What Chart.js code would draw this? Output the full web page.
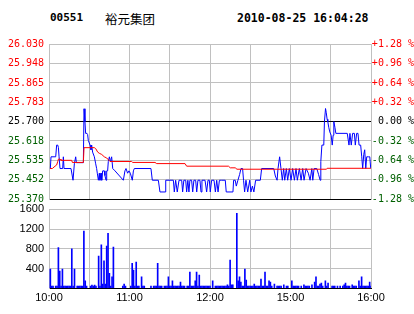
<!DOCTYPE html>
<html><head><meta charset="utf-8">
<script src="https://cdn.jsdelivr.net/npm/chart.js@4/dist/chart.umd.min.js"></script>
<style>
html,body{margin:0;padding:0;background:#fff;width:414px;height:314px;overflow:hidden;}
.t{position:absolute;white-space:nowrap;color:#000;line-height:1;}
canvas{position:absolute;left:0;}
</style></head><body>
<div class="t" style="left:50px;top:11px;font:bold 11px 'DejaVu Sans Mono',monospace;">00551</div>
<div class="t" style="left:105px;top:9px;font:12.5px 'Noto Sans CJK SC',sans-serif;">裕元集团</div>
<div class="t" style="left:237px;top:11px;font:bold 11.5px 'DejaVu Sans Mono',monospace;">2010-08-25 16:04:28</div>
<canvas id="c1" width="414" height="180" style="top:30px"></canvas>
<canvas id="c2" width="414" height="119" style="top:195px"></canvas>
<script>
// ---- data ----
const prevClose = 25.70;
const priceTicks = [25.370, 25.4525, 25.535, 25.6175, 25.700, 25.7825, 25.865, 25.9475, 26.030];
const priceTickLabels = ['25.370','25.452','25.535','25.618','25.700','25.783','25.865','25.948','26.030'];
const pctTickLabels = ['-1.28 %','-0.96 %','-0.64 %','-0.32 %','0.00 %','+0.32 %','+0.64 %','+0.96 %','+1.28 %'];
const gridMinutes = [0,30,60,90,120,150,180,210,240];
const timeLabelMinutes = [0,60,120,180,240];
const timeLabels = ['10:00','11:00','12:00','15:00','16:00'];
const volTicks = [0,400,800,1200,1600];
const volTickLabels = ['','400','800','1200','1600'];

const blueMin = [1,1.5,5,5.7,6.5,7,7.5,8.2,10.2,10.7,11.2,16.4,17.9,18.9,19.9,20.4,25.6,26.1,26.8,27.3,28.3,28.8,29.3,30.6,31.3,31.8,32.5,33.8,34.8,35.5,36,36.8,37.5,38,38.8,39.3,40,41.2,41.7,42.5,43,43.7,44.2,45,45.7,46.2,46.7,47.5,49.2,55.4,56.6,57.4,58.6,59.6,60.6,62.1,62.9,63.6,76,77,81.5,82.7,86.5,87,92.7,93.4,94.4,95.6,96.9,98.9,99.6,100.5,101.9,102.6,103.5,104.3,105,106.3,107.1,108,109.3,110.1,111,112.5,113.3,114,116.3,117.5,118.5,119.5,120.2,121.2,123,124,125,126,127,128.4,131.4,132.1,137.1,137.6,138.8,139.6,140.8,142.1,143.1,144.3,145,145.8,146.8,148.1,149.6,150.5,151.6,152.7,154,157.5,158.5,167.5,168.7,170,170.7,171.9,172.9,173.9,174.9,175.7,176.9,177.9,179.1,180.4,181.6,182.9,184.1,185.1,186.6,187.9,189.1,190.1,191.6,193.3,194.6,195.9,196.6,197.6,199.6,200.9,202.1,202.6,203.4,204.8,205.3,206.1,206.6,207.3,207.8,208.5,209.3,210.3,211.1,211.8,212.3,213.1,213.8,222.3,223.6,224.3,225.3,226.3,227.6,228.3,229.3,230.3,231.1,232.3,233.1,233.8,234.6,235.3,236.1,236.8,238.1,239.1,239.8];
const bluePrice = [25.50,25.55,25.55,25.60,25.60,25.59,25.55,25.50,25.50,25.55,25.50,25.50,25.45,25.52,25.55,25.525,25.525,25.755,25.70,25.65,25.65,25.645,25.62,25.60,25.58,25.60,25.57,25.55,25.52,25.50,25.48,25.45,25.48,25.45,25.48,25.45,25.49,25.49,25.47,25.45,25.49,25.49,25.53,25.55,25.53,25.54,25.55,25.50,25.49,25.45,25.49,25.50,25.48,25.49,25.48,25.45,25.49,25.50,25.50,25.45,25.45,25.40,25.40,25.45,25.45,25.40,25.45,25.40,25.45,25.45,25.40,25.45,25.45,25.40,25.45,25.40,25.45,25.45,25.40,25.45,25.45,25.40,25.45,25.45,25.40,25.45,25.45,25.40,25.45,25.45,25.40,25.45,25.45,25.40,25.45,25.40,25.45,25.45,25.45,25.40,25.40,25.45,25.45,25.425,25.45,25.475,25.50,25.50,25.45,25.40,25.45,25.40,25.45,25.40,25.425,25.40,25.45,25.45,25.50,25.50,25.468,25.45,25.50,25.55,25.50,25.45,25.50,25.45,25.50,25.45,25.50,25.45,25.50,25.45,25.50,25.45,25.50,25.45,25.50,25.45,25.50,25.48,25.45,25.50,25.45,25.50,25.50,25.475,25.45,25.53,25.60,25.60,25.70,25.756,25.74,25.71,25.70,25.676,25.656,25.642,25.60,25.642,25.70,25.676,25.65,25.65,25.60,25.65,25.60,25.65,25.65,25.60,25.65,25.65,25.60,25.60,25.55,25.50,25.56,25.58,25.50,25.55,25.55,25.55,25.50];

const avgMin = [0.75,2.5,4.5,5.7,6.5,7,8.2,8.9,16.9,17.4,25.6,26.1,33.8,34.8,36.3,37.5,39.3,41.2,43,45.5,61.6,62.4,79,80.3,101.4,102.6,133.8,135.1,138.8,140.1,206.8,207.3,239.8];
const avgPrice = [25.50,25.50,25.51,25.515,25.53,25.54,25.54,25.535,25.535,25.526,25.526,25.589,25.589,25.585,25.57,25.565,25.56,25.55,25.545,25.53,25.53,25.526,25.526,25.521,25.521,25.51,25.51,25.503,25.503,25.497,25.497,25.501,25.501];

const volMin = [1,2,3,5,6,7,8,9,10,11,12,13,14,15,16,17,18,19,21,22,23,24,25,26,27,28,31,32,33,34,35,37,38,39,40,41,42,43,44,45,46,47,48,55,56,57,61,62,63,64,65,66,67,69,70,71,76,78,79,80,81,82,83,84,86,87,88,89,90,91,92,93,94,95,96,97,98,99,100,101,103,104,105,106,107,108,109,110,111,112,113,114,115,116,117,118,119,120,122,124,125,126,127,128,129,130,131,132,133,134,135,136,137,140,141,142,143,144,145,146,147,148,149,150,151,152,153,154,155,156,157,158,159,160,161,162,163,164,165,166,168,170,171,172,173,175,177,178,181,182,183,184,185,186,188,190,191,192,193,194,196,198,199,200,201,202,203,204,206,207,208,211,212,213,215,217,219,220,221,222,223,224,226,227,228,229,231,232,233,234,235,236,237,238,239,240];
const volVal = [391,45,45,45,45,823,351,45,391,45,45,45,45,45,45,797,45,391,45,45,45,45,45,1161,149,45,45,65,45,65,45,655,45,878,88,554,88,857,1114,304,45,230,837,45,88,45,45,506,371,45,533,45,45,230,45,45,45,45,45,45,506,45,45,45,45,45,45,230,45,45,149,45,45,45,45,45,128,45,45,45,45,45,331,45,45,45,149,331,45,270,45,45,45,45,45,45,45,45,149,45,45,45,45,45,45,45,45,45,68,45,574,68,68,1519,149,230,128,45,45,391,169,45,45,45,45,45,88,45,45,45,45,189,45,45,331,45,45,149,128,45,88,45,45,45,45,68,45,45,149,45,45,45,45,45,45,68,45,45,45,45,68,128,230,45,45,88,108,45,149,45,108,45,45,45,45,45,45,68,108,45,45,45,68,45,45,45,149,45,230,45,45,45,45,45,128,45];

// ---- helpers ----
const GRAY = '#C0C0C0', RED = '#FF0000', GREEN = '#006000';
function near(a,b){return Math.abs(a-b)<1e-6;}
function levelColor(v){ if (near(v,prevClose)) return '#000000'; return v>prevClose ? RED : GREEN; }
const monoFont = {family:"'DejaVu Sans Mono', monospace", size:10};
const sansFont = {family:"'Liberation Sans', Arial, sans-serif", size:11};

new Chart(document.getElementById('c1'), {
  type:'line',
  data:{datasets:[
    {data: blueMin.map((m,i)=>({x:m,y:bluePrice[i]})), borderColor:'#0000FF', borderWidth:1, pointRadius:0, tension:0, order:1},
    {data: avgMin.map((m,i)=>({x:m,y:avgPrice[i]})), borderColor:'#FF0000', borderWidth:1, pointRadius:0, tension:0, order:0}
  ]},
  options:{
    responsive:false, animation:false, events:[],
    layout:{padding:{top:14.3,bottom:6.7,left:0,right:0}},
    plugins:{legend:{display:false}, tooltip:{enabled:false}},
    scales:{
      x:{type:'linear', min:0, max:240,
         afterBuildTicks:s=>{s.ticks=gridMinutes.map(v=>({value:v}));},
         ticks:{display:false}, grid:{color:GRAY, drawTicks:false}, border:{display:false},
         afterFit:s=>{s.height=0;}},
      y:{type:'linear', position:'left', min:priceTicks[0], max:priceTicks[priceTicks.length-1],
         afterBuildTicks:s=>{s.ticks=priceTicks.map(v=>({value:v}));},
         afterFit:s=>{s.width=49;},
         ticks:{font:monoFont, padding:5, color:c=>levelColor(c.tick.value),
                callback:(v,i)=>priceTickLabels[i]},
         grid:{drawTicks:false, color:c=>(c.tick && (near(c.tick.value,prevClose)||near(c.tick.value,priceTicks[0])))?'#000000':GRAY},
         border:{color:GRAY}},
      y2:{type:'linear', position:'right', min:priceTicks[0], max:priceTicks[priceTicks.length-1],
         afterBuildTicks:s=>{s.ticks=priceTicks.map(v=>({value:v}));},
         afterFit:s=>{s.width=43;},
         ticks:{font:monoFont, padding:2, crossAlign:'far', color:c=>levelColor(c.tick.value),
                callback:(v,i)=>pctTickLabels[i]},
         grid:{drawTicks:false, drawOnChartArea:false},
         border:{color:GRAY}}
    }
  }
});

new Chart(document.getElementById('c2'), {
  type:'bar',
  data:{datasets:[
    {data: volMin.map((m,i)=>({x:m,y:volVal[i]})), backgroundColor:'#0000FF', borderWidth:0, barThickness:1}
  ]},
  options:{
    responsive:false, animation:false, events:[],
    layout:{padding:{top:14.3,bottom:0,left:0,right:43}},
    plugins:{legend:{display:false}, tooltip:{enabled:false}},
    scales:{
      x:{type:'linear', min:0, max:240, offset:false,
         afterBuildTicks:s=>{s.ticks=gridMinutes.map(v=>({value:v}));},
         afterFit:s=>{s.height=25.7;},
         ticks:{font:sansFont, color:'#000', padding:3, autoSkip:false, maxRotation:0,
                callback:(v)=>{const k=timeLabelMinutes.indexOf(v); return k>=0?timeLabels[k]:'';}},
         grid:{color:GRAY, drawTicks:false, offset:false}, border:{color:'#000'}},
      y:{type:'linear', position:'left', min:0, max:1600,
         afterBuildTicks:s=>{s.ticks=volTicks.map(v=>({value:v}));},
         afterFit:s=>{s.width=49;},
         ticks:{font:sansFont, color:'#000', padding:5, callback:(v,i)=>volTickLabels[i]},
         grid:{drawTicks:false, color:c=>(c.tick && c.tick.value===0)?'#000000':GRAY},
         border:{color:GRAY}}
    }
  }
});
</script>
</body></html>
